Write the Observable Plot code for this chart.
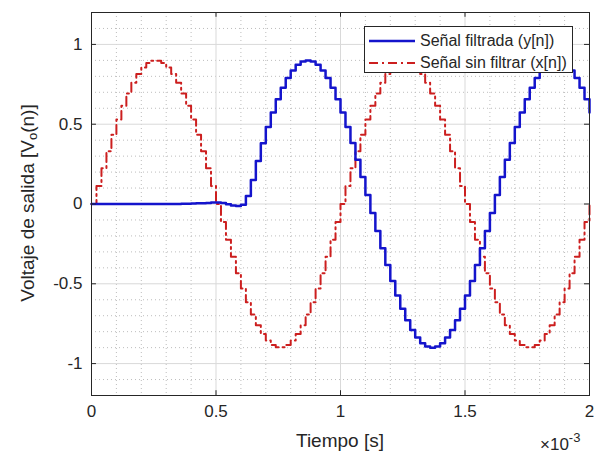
<!DOCTYPE html>
<html><head><meta charset="utf-8">
<script src="https://cdn.jsdelivr.net/npm/d3@7"></script>
<script src="https://cdn.jsdelivr.net/npm/@observablehq/plot@0.6"></script>
<style>
body{margin:0;background:#fff;font-family:"Liberation Sans",Arial,sans-serif;}
#wrap{position:relative;width:597px;height:455px;}
.lbl{position:absolute;color:#262626;white-space:nowrap;line-height:1;}
.leg{position:absolute;background:#fff;border:1px solid #262626;box-sizing:border-box;font-size:16px;color:#262626;}
.row{position:absolute;left:4px;display:flex;align-items:center;height:20px;}
.row svg{margin-right:5px;}
</style></head><body>
<div id="wrap"></div>
<script>
// sample period in ms (x axis shown in units of 1e-3 s)
const Ts = 0.02;
// unfiltered signal x[n], n = 0..100
const xSignal = [
  0, 0.113, 0.224, 0.331, 0.434, 0.529, 0.616, 0.693, 0.760, 0.814, 0.856, 0.884, 0.898,
  0.898, 0.884, 0.856, 0.814, 0.760, 0.693, 0.616, 0.529, 0.434, 0.331, 0.224, 0.113,
  0, -0.113, -0.224, -0.331, -0.434, -0.529, -0.616, -0.693, -0.760, -0.814, -0.856, -0.884, -0.898,
  -0.898, -0.884, -0.856, -0.814, -0.760, -0.693, -0.616, -0.529, -0.434, -0.331, -0.224, -0.113,
  0, 0.113, 0.224, 0.331, 0.434, 0.529, 0.616, 0.693, 0.760, 0.814, 0.856, 0.884, 0.898,
  0.898, 0.884, 0.856, 0.814, 0.760, 0.693, 0.616, 0.529, 0.434, 0.331, 0.224, 0.113,
  0, -0.113, -0.224, -0.331, -0.434, -0.529, -0.616, -0.693, -0.760, -0.814, -0.856, -0.884, -0.898,
  -0.898, -0.884, -0.856, -0.814, -0.760, -0.693, -0.616, -0.529, -0.434, -0.331, -0.224, -0.113,
  0
];
// filtered signal y[n], n = 0..100
const ySignal = [
  0, 0, 0, 0, 0, 0, 0, 0, 0, 0, 0, 0, 0, 0, 0, 0, 0, 0,
  0.001, 0.002, 0.003, 0.004, 0.005, 0.007, 0.009, 0.010, 0.006, -0.002, -0.010, -0.013, -0.005,
  0.05, 0.15, 0.27, 0.38, 0.482, 0.574, 0.656, 0.728, 0.789, 0.837, 0.872, 0.893, 0.900,
  0.893, 0.872, 0.837, 0.789, 0.728, 0.656, 0.574, 0.482, 0.383, 0.278, 0.169, 0.057,
  -0.057, -0.169, -0.278, -0.383, -0.482, -0.574, -0.656, -0.728, -0.789, -0.837, -0.872, -0.893, -0.900,
  -0.893, -0.872, -0.837, -0.789, -0.728, -0.656, -0.574, -0.482, -0.383, -0.278, -0.169, -0.057,
  0.057, 0.169, 0.278, 0.383, 0.482, 0.574, 0.656, 0.728, 0.789, 0.837, 0.872, 0.893, 0.900,
  0.893, 0.872, 0.837, 0.789, 0.728, 0.656, 0.574
];
const xTicks = [0, 0.5, 1, 1.5, 2];
const yTicks = [-1, -0.5, 0, 0.5, 1];
const xMinor = [0.1,0.2,0.3,0.4,0.6,0.7,0.8,0.9,1.1,1.2,1.3,1.4,1.6,1.7,1.8,1.9];
const yMinor = [-1.1,-0.9,-0.8,-0.7,-0.6,-0.4,-0.3,-0.2,-0.1,0.1,0.2,0.3,0.4,0.6,0.7,0.8,0.9,1.1];
const seriesNames = ["Señal filtrada (y[n])", "Señal sin filtrar (x[n])"];
const xLabel = "Tiempo [s]";
const blue = "#1414cc", red = "#cc1f1f";

const rowsX = xSignal.map((v, i) => ({t: i * Ts, v}));
const rowsY = ySignal.map((v, i) => ({t: i * Ts, v}));

const axisColor = "#262626";
const chart = Plot.plot({
  width: 597, height: 455,
  marginLeft: 91, marginRight: 8, marginTop: 12, marginBottom: 60,
  style: {fontFamily: '"Liberation Sans", Arial, sans-serif', fontSize: "17px", color: axisColor, background: "#fff"},
  x: {domain: [0, 2]},
  y: {domain: [-1.2, 1.2]},
  marks: [
    Plot.ruleX(xMinor, {stroke: "#bdbdbd", strokeDasharray: "1,3", strokeWidth: 1}),
    Plot.ruleY(yMinor, {stroke: "#bdbdbd", strokeDasharray: "1,3", strokeWidth: 1}),
    Plot.ruleX(xTicks, {stroke: "#d9d9d9", strokeWidth: 1}),
    Plot.ruleY(yTicks, {stroke: "#d9d9d9", strokeWidth: 1}),
    Plot.line(rowsX, {x: "t", y: "v", curve: "step-after", stroke: red, strokeWidth: 2, strokeDasharray: "9,4,2,4"}),
    Plot.line(rowsY, {x: "t", y: "v", curve: "step-after", stroke: blue, strokeWidth: 2.5}),
    Plot.ruleX(xTicks, {y1: -1.2, y2: -1.17, stroke: axisColor}),
    Plot.ruleX(xTicks, {y1: 1.2, y2: 1.17, stroke: axisColor}),
    Plot.ruleY(yTicks, {x1: 0, x2: 0.02, stroke: axisColor}),
    Plot.ruleY(yTicks, {x1: 2, x2: 1.98, stroke: axisColor}),
    Plot.frame({stroke: axisColor, strokeWidth: 1}),
    Plot.axisX(xTicks, {tickSize: 0, tickPadding: 9, label: null, tickFormat: d => String(d), fontSize: 17}),
    Plot.axisY(yTicks, {tickSize: 0, tickPadding: 9, label: null, tickFormat: d => String(d), fontSize: 17})
  ]
});
const wrap = document.getElementById("wrap");
wrap.appendChild(chart);

function addLabel(html, css) {
  const d = document.createElement("div");
  d.className = "lbl";
  d.innerHTML = html;
  Object.assign(d.style, css);
  wrap.appendChild(d);
  return d;
}
addLabel(xLabel, {left: "340px", top: "440px", fontSize: "19px", transform: "translate(-50%,-50%)"});
addLabel('Voltaje de salida [V<sub style="font-size:13px;vertical-align:-3px">o</sub>(n)]',
  {left: "28px", top: "203px", fontSize: "19px", transform: "translate(-50%,-50%) rotate(-90deg)"});
addLabel('×10<span style="font-size:13px;position:relative;top:-8px">-3</span>', {left: "540px", top: "436px", fontSize: "17px"});

const leg = document.createElement("div");
leg.className = "leg";
Object.assign(leg.style, {left: "364px", top: "26px", width: "209px", height: "47px"});
const styles = [{c: blue, dash: "", w: 2.5}, {c: red, dash: "9,4,2,4", w: 2}];
seriesNames.forEach((name, i) => {
  const r = document.createElement("div");
  r.className = "row";
  r.style.top = (i === 0 ? 4 : 26) + "px";
  r.innerHTML = `<svg width="46" height="10"><line x1="0" x2="46" y1="5" y2="5" stroke="${styles[i].c}" stroke-width="${styles[i].w}" ${styles[i].dash ? `stroke-dasharray="${styles[i].dash}"` : ""}/></svg><span>${name}</span>`;
  leg.appendChild(r);
});
wrap.appendChild(leg);
</script>
</body></html>
